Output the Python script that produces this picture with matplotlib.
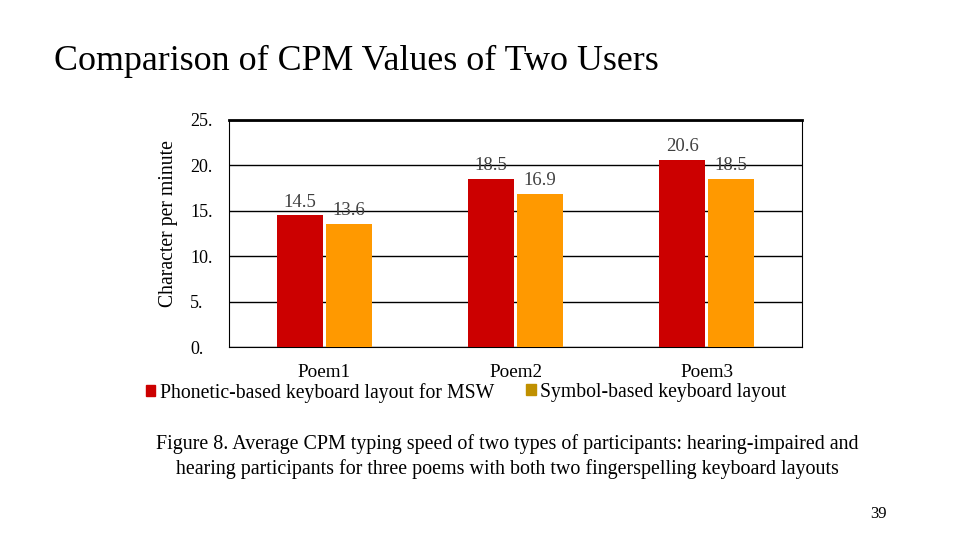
import matplotlib.pyplot as plt
import numpy as np
from matplotlib.patches import Rectangle

plt.rcParams['font.family'] = ['Liberation Serif', 'DejaVu Serif']

poems = ['Poem1', 'Poem2', 'Poem3']
phonetic = [14.5, 18.5, 20.6]
symbol = [13.6, 16.9, 18.5]
yticks = [0, 5, 10, 15, 20, 25]
series_names = ['Phonetic-based keyboard layout for MSW', 'Symbol-based keyboard layout']

red = '#CC0000'
orange = '#FF9900'
gold = '#C09000'

fig = plt.figure(figsize=(9.6, 5.4), dpi=100)
ax = fig.add_axes([229/960, 1 - 347/540, 573/960, 227/540])

x = np.arange(len(poems))
w = 0.24
ax.bar(x - w/2 - 0.008, phonetic, w, color=red, zorder=3)
ax.bar(x + w/2 + 0.008, symbol, w, color=orange, zorder=3)

for xi, v in zip(x - w/2 - 0.008, phonetic):
    ax.text(xi, v + 0.5, f'{v}', ha='center', va='bottom', fontsize=13.5, color='#404040')
for xi, v in zip(x + w/2 + 0.008, symbol):
    ax.text(xi, v + 0.5, f'{v}', ha='center', va='bottom', fontsize=13.5, color='#404040')

ax.set_xlim(-0.5, 2.5)
ax.set_ylim(0, 25)
ax.set_yticks(yticks)
ax.set_yticklabels([f'{t}.' for t in yticks], fontsize=13, ha='left')
ax.tick_params(axis='y', length=0, pad=28)
ax.set_xticks(x)
ax.set_xticklabels(poems, fontsize=13.8)
ax.tick_params(axis='x', length=0, pad=12.5)
ax.grid(axis='y', color='black', linewidth=1, zorder=0)
for s in ['left', 'right', 'bottom']:
    ax.spines[s].set_linewidth(0.8)
ax.spines['top'].set_linewidth(2)
ax.set_ylabel('Character per minute', fontsize=14.2)
ax.yaxis.set_label_coords(-0.089, 0.542)

# legend
fig.patches.append(Rectangle((146/960, 1 - 396/540), 9/960, 11/540, color=red, transform=fig.transFigure))
fig.text(160/960, 1 - 393/540, series_names[0], fontsize=14.2, va='center')
fig.patches.append(Rectangle((526/960, 1 - 395/540), 10/960, 11/540, color=gold, transform=fig.transFigure))
fig.text(540/960, 1 - 393/540, series_names[1], fontsize=14.2, va='center')

fig.text(54/960, 1 - 61/540, 'Comparison of CPM Values of Two Users', fontsize=25.8, va='center')
fig.text(507/960, 1 - 444/540, 'Figure 8. Average CPM typing speed of two types of participants: hearing-impaired and',
         fontsize=14.4, ha='center', va='center')
fig.text(507/960, 1 - 469/540, 'hearing participants for three poems with both two fingerspelling keyboard layouts',
         fontsize=14.4, ha='center', va='center')
fig.text(878/960, 1 - 514/540, '39', fontsize=12, ha='center', va='center')

fig.savefig('out.png', dpi=100)
